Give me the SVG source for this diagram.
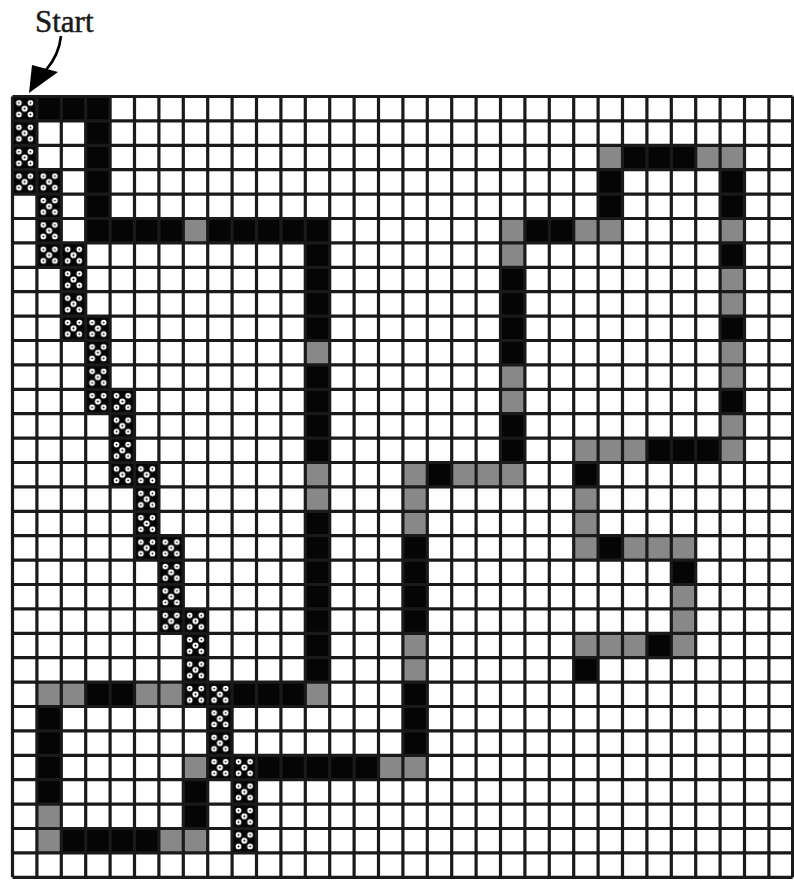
<svg xmlns="http://www.w3.org/2000/svg" width="794" height="880" viewBox="0 0 794 880">
<defs>
<style>
.k{fill:#050505}
.g{fill:#888}
.x{fill:url(#xp)}
.grid{stroke:#1a1a1a;stroke-width:3.2;fill:none}
.lbl{font-family:"Liberation Serif","Times New Roman",serif;font-size:31px;fill:#1a1a1a;stroke:#1a1a1a;stroke-width:0.5}
</style>
<pattern id="xp" patternUnits="userSpaceOnUse" x="12.5" y="96.5" width="24.4" height="24.4">
<rect width="24.4" height="24.4" fill="#050505"/>
<g fill="#fff">
<circle cx="12.2" cy="12.2" r="3"/>
<circle cx="6.4" cy="6.4" r="2.8"/>
<circle cx="18" cy="6.4" r="2.8"/>
<circle cx="6.4" cy="18" r="2.8"/>
<circle cx="18" cy="18" r="2.8"/>
</g>
<g fill="#050505">
<circle cx="12.2" cy="12.2" r="1"/>
<circle cx="6.4" cy="6.4" r="0.9"/>
<circle cx="18" cy="6.4" r="0.9"/>
<circle cx="6.4" cy="18" r="0.9"/>
<circle cx="18" cy="18" r="0.9"/>
</g>
</pattern>
</defs>
<rect width="794" height="880" fill="#fff"/>

<g id="label-start">
<text class="lbl" x="35" y="32">Start</text>
</g>

<g id="connectors">
<path d="M61,36 Q59,55 46,70" fill="none" stroke="#000" stroke-width="2.6"/>
<polygon points="32,65 58,72 29,93" fill="#000"/>
</g>

<g id="path-diagonal">
<rect class="x" x="12.5" y="96.5" width="24.4" height="97.6"/>
<rect class="x" x="36.9" y="169.7" width="24.4" height="97.6"/>
<rect class="x" x="61.3" y="242.9" width="24.4" height="97.6"/>
<rect class="x" x="85.7" y="316.1" width="24.4" height="97.6"/>
<rect class="x" x="110.1" y="389.3" width="24.4" height="97.6"/>
<rect class="x" x="134.5" y="462.5" width="24.4" height="97.6"/>
<rect class="x" x="158.9" y="535.7" width="24.4" height="97.6"/>
<rect class="x" x="183.3" y="608.9" width="24.4" height="97.6"/>
<rect class="x" x="207.7" y="682.1" width="24.4" height="97.6"/>
<rect class="x" x="232.1" y="755.3" width="24.4" height="97.6"/>
</g>

<g id="path-a">
<rect class="k" x="36.9" y="96.5" width="73.2" height="24.4"/>
<rect class="k" x="85.7" y="96.5" width="24.4" height="146.4"/>
<rect class="k" x="85.7" y="218.5" width="244" height="24.4"/>
<rect class="k" x="305.3" y="218.5" width="24.4" height="463.6"/>
<rect class="g" x="183.3" y="218.5" width="24.4" height="24.4"/>
<rect class="g" x="305.3" y="340.5" width="24.4" height="24.4"/>
<rect class="g" x="305.3" y="462.5" width="24.4" height="48.8"/>
<rect class="g" x="305.3" y="682.1" width="24.4" height="24.4"/>
</g>

<g id="path-c">
<rect class="k" x="232.1" y="682.1" width="73.2" height="24.4"/>
<rect class="k" x="85.7" y="682.1" width="48.8" height="24.4"/>
<rect class="g" x="36.9" y="682.1" width="48.8" height="24.4"/>
<rect class="g" x="134.5" y="682.1" width="48.8" height="24.4"/>
<rect class="k" x="36.9" y="706.5" width="24.4" height="97.6"/>
<rect class="g" x="36.9" y="804.1" width="24.4" height="48.8"/>
<rect class="k" x="61.3" y="828.5" width="97.6" height="24.4"/>
<rect class="g" x="158.9" y="828.5" width="48.8" height="24.4"/>
<rect class="k" x="183.3" y="779.7" width="24.4" height="48.8"/>
<rect class="g" x="183.3" y="755.3" width="24.4" height="24.4"/>
</g>

<g id="path-b">
<rect class="k" x="256.5" y="755.3" width="122" height="24.4"/>
<rect class="g" x="378.5" y="755.3" width="48.8" height="24.4"/>
<rect class="k" x="402.9" y="682.1" width="24.4" height="73.2"/>
<rect class="g" x="402.9" y="633.3" width="24.4" height="48.8"/>
<rect class="k" x="402.9" y="535.7" width="24.4" height="97.6"/>
<rect class="g" x="402.9" y="462.5" width="24.4" height="73.2"/>
<rect class="k" x="427.3" y="462.5" width="24.4" height="24.4"/>
<rect class="g" x="451.7" y="462.5" width="73.2" height="24.4"/>
<rect class="k" x="500.5" y="413.7" width="24.4" height="48.8"/>
<rect class="g" x="500.5" y="364.9" width="24.4" height="48.8"/>
<rect class="k" x="500.5" y="267.3" width="24.4" height="97.6"/>
<rect class="g" x="500.5" y="218.5" width="24.4" height="48.8"/>
<rect class="k" x="524.9" y="218.5" width="48.8" height="24.4"/>
<rect class="g" x="573.7" y="218.5" width="48.8" height="24.4"/>
<rect class="k" x="598.1" y="169.7" width="24.4" height="48.8"/>
<rect class="g" x="598.1" y="145.3" width="24.4" height="24.4"/>
<rect class="k" x="622.5" y="145.3" width="73.2" height="24.4"/>
<rect class="g" x="695.7" y="145.3" width="48.8" height="24.4"/>
<rect class="k" x="720.1" y="169.7" width="24.4" height="48.8"/>
<rect class="g" x="720.1" y="218.5" width="24.4" height="24.4"/>
<rect class="k" x="720.1" y="242.9" width="24.4" height="24.4"/>
<rect class="g" x="720.1" y="267.3" width="24.4" height="48.8"/>
<rect class="k" x="720.1" y="316.1" width="24.4" height="24.4"/>
<rect class="g" x="720.1" y="340.5" width="24.4" height="48.8"/>
<rect class="k" x="720.1" y="389.3" width="24.4" height="24.4"/>
<rect class="g" x="720.1" y="413.7" width="24.4" height="48.8"/>
<rect class="k" x="646.9" y="438.1" width="73.2" height="24.4"/>
<rect class="g" x="573.7" y="438.1" width="73.2" height="24.4"/>
<rect class="k" x="573.7" y="462.5" width="24.4" height="24.4"/>
<rect class="g" x="573.7" y="486.9" width="24.4" height="73.2"/>
<rect class="k" x="598.1" y="535.7" width="24.4" height="24.4"/>
<rect class="g" x="622.5" y="535.7" width="73.2" height="24.4"/>
<rect class="k" x="671.3" y="560.1" width="24.4" height="24.4"/>
<rect class="g" x="671.3" y="584.5" width="24.4" height="73.2"/>
<rect class="k" x="646.9" y="633.3" width="24.4" height="24.4"/>
<rect class="g" x="573.7" y="633.3" width="73.2" height="24.4"/>
<rect class="k" x="573.7" y="657.7" width="24.4" height="24.4"/>
</g>

<g id="grid">
<path class="grid" d="M12.5,96.5V877.3M36.9,96.5V877.3M61.3,96.5V877.3M85.7,96.5V877.3M110.1,96.5V877.3M134.5,96.5V877.3M158.9,96.5V877.3M183.3,96.5V877.3M207.7,96.5V877.3M232.1,96.5V877.3M256.5,96.5V877.3M280.9,96.5V877.3M305.3,96.5V877.3M329.7,96.5V877.3M354.1,96.5V877.3M378.5,96.5V877.3M402.9,96.5V877.3M427.3,96.5V877.3M451.7,96.5V877.3M476.1,96.5V877.3M500.5,96.5V877.3M524.9,96.5V877.3M549.3,96.5V877.3M573.7,96.5V877.3M598.1,96.5V877.3M622.5,96.5V877.3M646.9,96.5V877.3M671.3,96.5V877.3M695.7,96.5V877.3M720.1,96.5V877.3M744.5,96.5V877.3M768.9,96.5V877.3M792.6,96.5V877.3"/>
<path class="grid" d="M12.5,96.5H792.6M12.5,120.9H792.6M12.5,145.3H792.6M12.5,169.7H792.6M12.5,194.1H792.6M12.5,218.5H792.6M12.5,242.9H792.6M12.5,267.3H792.6M12.5,291.7H792.6M12.5,316.1H792.6M12.5,340.5H792.6M12.5,364.9H792.6M12.5,389.3H792.6M12.5,413.7H792.6M12.5,438.1H792.6M12.5,462.5H792.6M12.5,486.9H792.6M12.5,511.3H792.6M12.5,535.7H792.6M12.5,560.1H792.6M12.5,584.5H792.6M12.5,608.9H792.6M12.5,633.3H792.6M12.5,657.7H792.6M12.5,682.1H792.6M12.5,706.5H792.6M12.5,730.9H792.6M12.5,755.3H792.6M12.5,779.7H792.6M12.5,804.1H792.6M12.5,828.5H792.6M12.5,852.9H792.6M12.5,877.3H792.6"/>
</g>
</svg>
